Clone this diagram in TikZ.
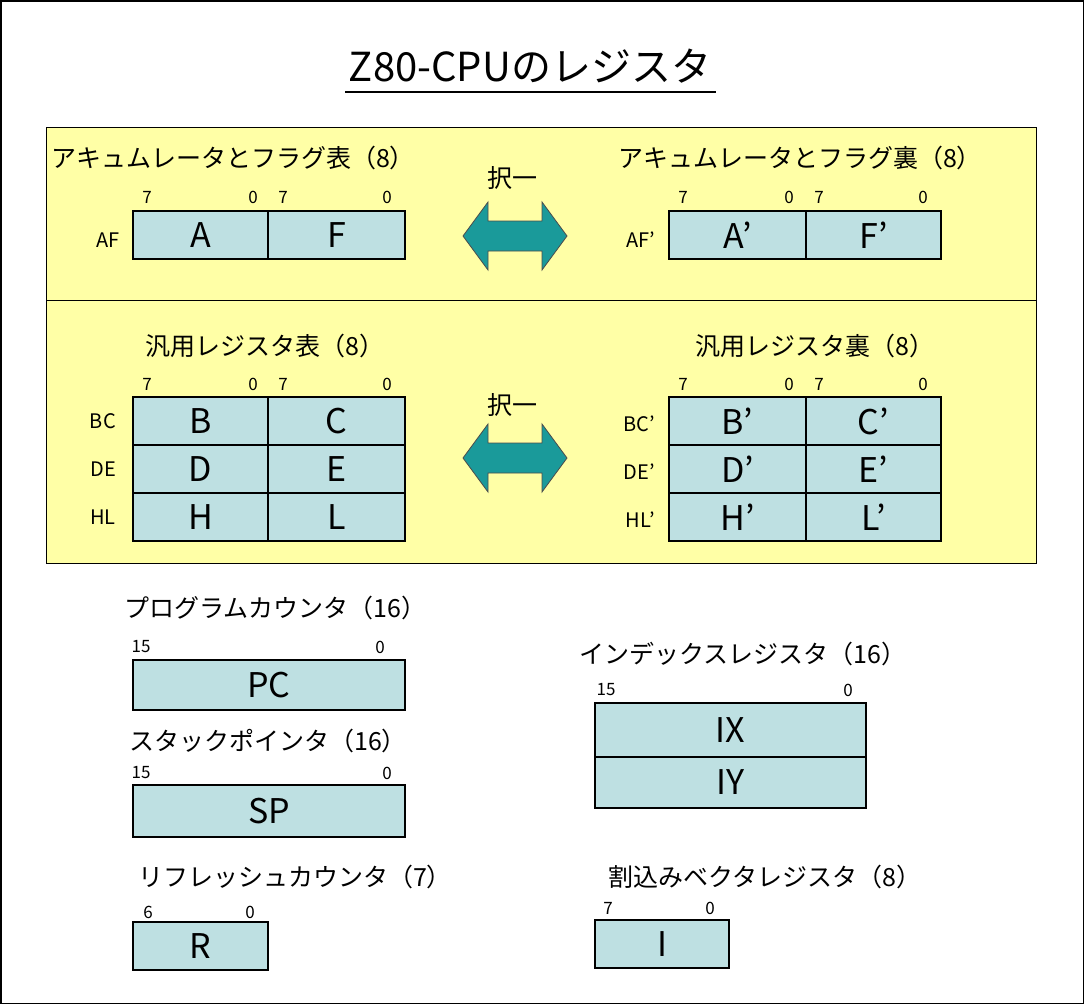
\documentclass[tikz,border=0pt]{standalone}
\usepackage{fontspec}
\setmainfont{Noto Sans CJK JP}
\definecolor{yel}{HTML}{FFFFA6}
\definecolor{cell}{HTML}{BEE0E2}
\definecolor{teal2}{HTML}{1A9A9A}
\begin{document}
\begin{tikzpicture}[x=1pt,y=-1pt,
  cellbox/.style={draw=black,line width=1.2pt,fill=cell,inner sep=0pt,minimum height=48pt,font=\fontsize{34}{34}\selectfont},
  bit/.style={font=\fontsize{17}{17}\selectfont,inner sep=0pt},
  lab/.style={font=\fontsize{20}{20}\selectfont,inner sep=0pt},
  ttl/.style={font=\fontsize{25}{25}\selectfont,inner sep=0pt},
  arr/.style={fill=teal2,draw=black!70,line width=0.8pt}]
\useasboundingbox (0,0) rectangle (1084,1004);
\draw[line width=1.5pt] (0.75,0.75) rectangle (1083.25,1003.25);
\node[font=\fontsize{40}{40}\selectfont,inner sep=0pt] (title) at (530,66) {Z80-CPUのレジスタ};
\draw[line width=1.5pt] (345,92) -- (716,92);
% yellow panels
\draw[fill=yel,line width=1pt] (46,127) rectangle (1036,300);
\draw[fill=yel,line width=1pt] (46,300) rectangle (1036,563);
% AF
\node[ttl] (t1) at (233,158) {アキュムレータとフラグ表（8）};
\node[ttl] (t2) at (800,158) {アキュムレータとフラグ裏（8）};
\foreach \x in {0,536}{
  \begin{scope}[xshift=\x]
  \node[bit] at (147,197) {7}; \node[bit] at (253,197) {0};
  \node[bit] at (283,197) {7}; \node[bit] at (387,197) {0};
  \end{scope}}
\node[cellbox,minimum width=135pt] (A) at (200.5,235) {A};
\node[cellbox,minimum width=137pt] (F) at (336.5,235) {F};
\node[lab,anchor=east] (AFl) at (120,240) {AF};
\node[cellbox,minimum width=137pt] (A2) at (737.5,235) {A’};
\node[cellbox,minimum width=135pt] (F2) at (873.5,235) {F’};
\node[lab,anchor=east] (AFl2) at (655,240) {AF'};
\node[ttl] (s1) at (512,178) {択一};
\draw[arr] (463,236)--(488,202)--(488,221)--(542,221)--(542,202)--(567,236)--(542,270)--(542,251)--(488,251)--(488,270)--cycle;
% general
\node[ttl] (t3) at (265,346) {汎用レジスタ表（8）};
\node[ttl] (t4) at (815,346) {汎用レジスタ裏（8）};
\foreach \x in {0,536}{
  \begin{scope}[xshift=\x]
  \node[bit] at (147,384) {7}; \node[bit] at (253,384) {0};
  \node[bit] at (283,384) {7}; \node[bit] at (387,384) {0};
  \end{scope}}
\foreach \a/\b/\y/\n in {B/C/421/BC,D/E/469/DE,H/L/517/HL}{
  \node[cellbox,minimum width=135pt] (\a) at (200.5,\y) {\a};
  \node[cellbox,minimum width=137pt] (\b) at (336.5,\y) {\b};
  \node[lab,anchor=east] (\n) at (116,\y) {\n};
  \node[cellbox,minimum width=137pt] (\a2) at (737.5,\y) {\a’};
  \node[cellbox,minimum width=135pt] (\b2) at (873.5,\y) {\b’};
  \node[lab,anchor=east] (\n2) at (655,\y+3) {\n'};
}
\node[ttl] (s2) at (512,405) {択一};
\draw[arr] (463,458)--(488,424)--(488,443)--(542,443)--(542,424)--(567,458)--(542,492)--(542,473)--(488,473)--(488,492)--cycle;
% PC SP R
\node[ttl] (t5) at (275,608) {プログラムカウンタ（16）};
\node[bit] at (141,647) {15}; \node[bit] at (380,647) {0};
\node[cellbox,minimum width=272pt,minimum height=50pt] (PC) at (269,685) {PC};
\node[ttl] (t6) at (268,741) {スタックポインタ（16）};
\node[bit] at (141,773) {15}; \node[bit] at (387,773) {0};
\node[cellbox,minimum width=272pt,minimum height=52pt] (SP) at (269,811) {SP};
\node[ttl] (t7) at (295,877) {リフレッシュカウンタ（7）};
\node[bit] at (148,912) {6}; \node[bit] at (250,912) {0};
\node[cellbox,minimum width=135pt,minimum height=48pt] (R) at (200.5,946) {R};
% IX IY I
\node[ttl] (t8) at (743,654) {インデックスレジスタ（16）};
\node[bit] at (606,690) {15}; \node[bit] at (848,690) {0};
\node[cellbox,minimum width=271pt,minimum height=54pt] (IX) at (730.5,730) {IX};
\node[cellbox,minimum width=271pt,minimum height=51pt] (IY) at (730.5,782.5) {IY};
\node[ttl] (t9) at (765,877) {割込みベクタレジスタ（8）};
\node[bit] at (608,908) {7}; \node[bit] at (710,908) {0};
\node[cellbox,minimum width=134pt,minimum height=48pt] (I) at (662,944) {I};
\end{tikzpicture}
\end{document}
